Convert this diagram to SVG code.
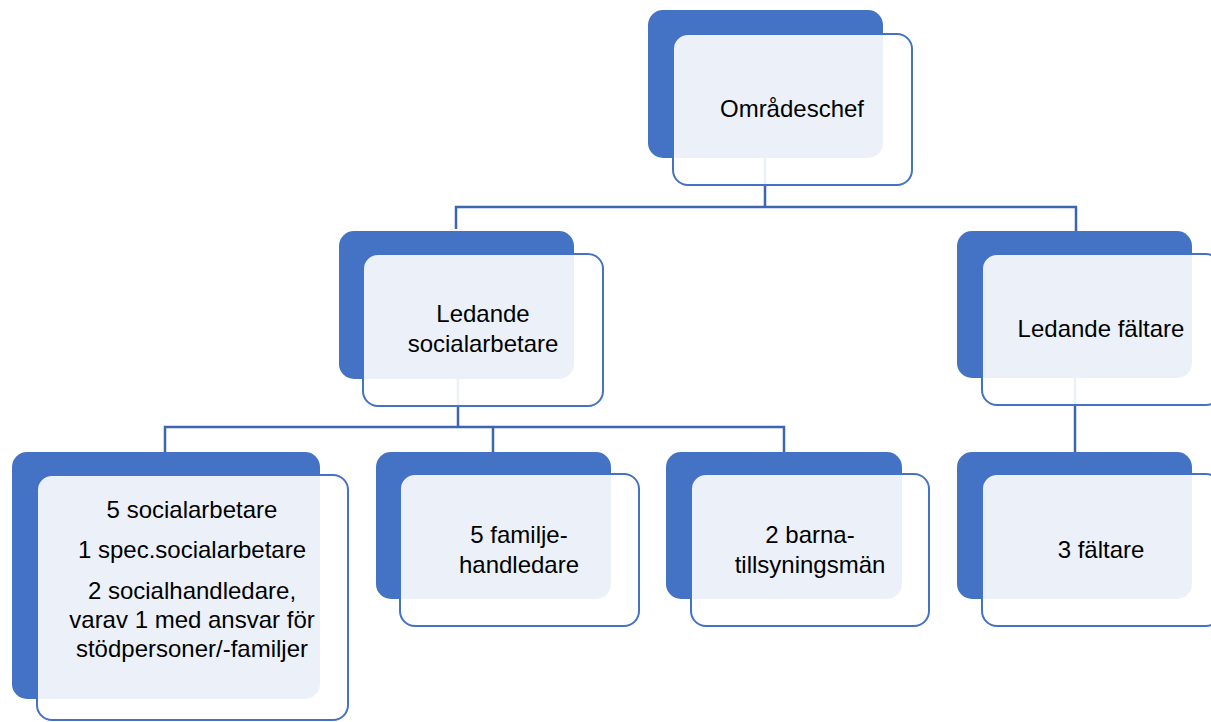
<svg xmlns="http://www.w3.org/2000/svg" width="1211" height="722" viewBox="0 0 1211 722">
<style>
.dark{fill:#4472C4}
.card{fill:#ffffff;fill-opacity:0.9;stroke:#4472C4;stroke-width:2}
.conn{fill:none;stroke:#3D66B0;stroke-width:2.5}
text{font-family:"Liberation Sans",Arial,sans-serif;font-size:24px;fill:#000;text-anchor:middle}
</style>
<rect width="1211" height="722" fill="#ffffff"/>
<g id="connectors">
<path class="conn" d="M765,158 V207 M456,229 V207 H1076 V231"/>
<path class="conn" d="M458,379 V427 M165,452 V427 H784 V452 M493,427 V452"/>
<path class="conn" d="M1075,378 V452"/>
</g>
<g id="node-omradeschef">
<rect class="dark" x="648" y="10" width="235" height="148" rx="15"/>
<rect class="card" x="673" y="34" width="239" height="151" rx="15"/>
<text x="792" y="117">Områdeschef</text>
</g>
<g id="node-ledande-socialarbetare">
<rect class="dark" x="339" y="231" width="235" height="148" rx="15"/>
<rect class="card" x="363" y="254" width="240" height="152" rx="15"/>
<text x="483" y="322">Ledande</text>
<text x="483" y="352">socialarbetare</text>
</g>
<g id="node-ledande-faltare">
<rect class="dark" x="957" y="231" width="235" height="147" rx="15"/>
<rect class="card" x="982" y="254" width="239" height="151" rx="15"/>
<text x="1101" y="337">Ledande fältare</text>
</g>
<g id="node-socialarbetare">
<rect class="dark" x="12" y="452" width="308" height="247" rx="15"/>
<rect class="card" x="37" y="475" width="311" height="245" rx="15"/>
<text x="192" y="518">5 socialarbetare</text>
<text x="192" y="558">1 spec.socialarbetare</text>
<text x="192" y="599">2 socialhandledare,</text>
<text x="192" y="628">varav 1 med ansvar för</text>
<text x="192" y="657">stödpersoner/-familjer</text>
</g>
<g id="node-familjehandledare">
<rect class="dark" x="376" y="452" width="235" height="147" rx="15"/>
<rect class="card" x="400" y="474" width="239" height="152" rx="15"/>
<text x="519" y="543">5 familje-</text>
<text x="519" y="573">handledare</text>
</g>
<g id="node-barnatillsyningsman">
<rect class="dark" x="666" y="452" width="236" height="147" rx="15"/>
<rect class="card" x="691" y="474" width="238" height="152" rx="15"/>
<text x="810" y="543">2 barna-</text>
<text x="810" y="573">tillsyningsmän</text>
</g>
<g id="node-faltare">
<rect class="dark" x="957" y="452" width="235" height="147" rx="15"/>
<rect class="card" x="982" y="474" width="239" height="152" rx="15"/>
<text x="1101" y="558">3 fältare</text>
</g>
</svg>
